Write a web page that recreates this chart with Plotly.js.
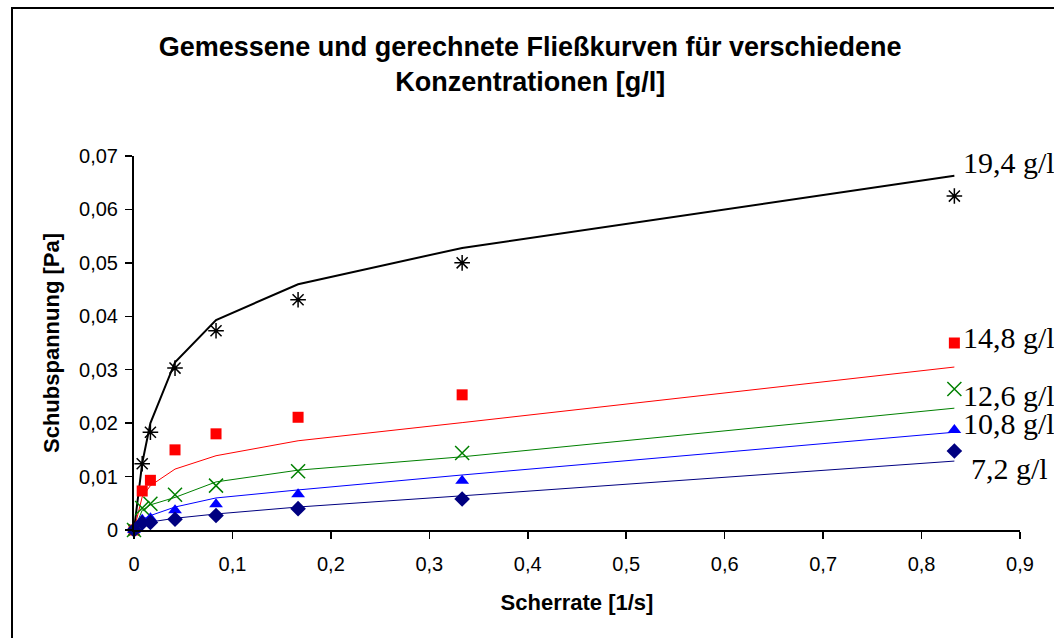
<!DOCTYPE html>
<html>
<head>
<meta charset="utf-8">
<script src="https://cdn.plot.ly/plotly-3.0.1.min.js"></script>
<style>
  html, body { margin: 0; padding: 0; background: #fff; }
  #wrap { position: relative; width: 1054px; height: 638px; overflow: hidden; }
  #chart { width: 1054px; height: 638px; }
  #frame { position: absolute; left: 11px; top: 7px; width: 1100px; height: 700px;
           border-left: 2px solid #000; border-top: 2px solid #000; pointer-events: none; }
</style>
</head>
<body>
<div id="wrap"><div id="chart"></div><div id="frame"></div></div>
<script>
// Scherrate [1/s]
const shearRate = [0, 0.00833, 0.01667, 0.04167, 0.08333, 0.16667, 0.33333, 0.83333];

// gemessen (markers) und gerechnet (lines), Schubspannung [Pa]
const meas194 = [0, 0.0124, 0.0183, 0.0303, 0.0373, 0.0431, 0.0500, 0.0625];
const calc194 = [0, 0.0125, 0.0200, 0.0314, 0.0393, 0.0460, 0.0528, 0.0663];
const meas148 = [0, 0.0073, 0.0093, 0.0150, 0.0180, 0.0211, 0.0253, 0.0350];
const calc148 = [0, 0.0062, 0.0083, 0.0114, 0.0139, 0.0167, 0.0201, 0.0305];
const meas126 = [0, 0.0041, 0.0049, 0.0066, 0.0083, 0.0110, 0.0144, 0.0264];
const calc126 = [0, 0.0037, 0.0047, 0.0061, 0.0090, 0.0112, 0.0137, 0.0228];
const meas108 = [0, 0.0019, 0.0022, 0.0037, 0.0048, 0.0067, 0.0092, 0.0187];
const calc108 = [0, 0.0020, 0.0027, 0.0043, 0.0060, 0.0075, 0.0103, 0.0183];
const meas72  = [0, 0.0013, 0.0014, 0.0020, 0.0027, 0.0040, 0.0058, 0.0148];
const calc72  = [0, 0.0012, 0.0015, 0.0022, 0.0030, 0.0043, 0.0064, 0.0129];

const seriesLabels = ["19,4 g/l", "14,8 g/l", "12,6 g/l", "10,8 g/l", "7,2 g/l"];
const labelX = [0.840, 0.840, 0.840, 0.840, 0.848];
const labelY = [0.0687, 0.0361, 0.0252, 0.0199, 0.0116];

const colors = ["#000000", "#FF0000", "#008000", "#0000FF", "#000080"];
const measured = [meas194, meas148, meas126, meas108, meas72];
const calculated = [calc194, calc148, calc126, calc108, calc72];
const symbols = ["asterisk-open", "square", "x-thin-open", "triangle-up", "diamond"];
const msizes = [13, 11, 14, 12, 12];
const lwidths = [2, 1, 1, 1, 1];

const traces = [];
for (let i = 0; i < 5; i++) {
  traces.push({
    x: shearRate, y: calculated[i], type: "scatter", mode: "lines",
    line: { color: colors[i], width: lwidths[i] }, cliponaxis: false,
    showlegend: false, hoverinfo: "skip"
  });
  traces.push({
    x: shearRate, y: measured[i], type: "scatter", mode: "markers",
    marker: { symbol: symbols[i], size: msizes[i], color: colors[i],
              line: { color: colors[i], width: (i === 0 || i === 2) ? 1.5 : 0 } },
    cliponaxis: false, showlegend: false
  });
}

const annotations = seriesLabels.map((t, i) => ({
  text: t, x: labelX[i], y: labelY[i], xref: "x", yref: "y",
  xanchor: "left", yanchor: "middle", showarrow: false,
  font: { family: "Liberation Serif, Times New Roman, serif", size: 30, color: "#000" }
}));

const layout = {
  width: 1054, height: 638,
  paper_bgcolor: "#fff", plot_bgcolor: "#fff",
  margin: { l: 134, r: 34, t: 156, b: 108, pad: 0 },
  separators: ",.",
  font: { family: "Liberation Sans, Arial, sans-serif", color: "#000", size: 20 },
  title: {
    text: "<b>Gemessene und gerechnete Fließkurven für verschiedene<br>Konzentrationen [g/l]</b>",
    x: 0.503, xanchor: "center", y: 0.912, yanchor: "middle", yref: "container",
    font: { size: 27, family: "Liberation Sans, Arial, sans-serif", color: "#000" }
  },
  xaxis: {
    range: [0, 0.9], dtick: 0.1, tick0: 0, showgrid: false, zeroline: false,
    showline: true, linecolor: "#000", linewidth: 2,
    ticks: "outside", ticklen: 7, tickcolor: "#000", tickwidth: 1.5,
    ticklabelstandoff: 8,
    tickfont: { size: 20 },
    title: { text: "<b>Scherrate [1/s]</b>", font: { size: 22 }, standoff: 21 }
  },
  yaxis: {
    range: [0, 0.07], dtick: 0.01, tick0: 0, showgrid: false, zeroline: false,
    showline: true, linecolor: "#000", linewidth: 2,
    ticks: "outside", ticklen: 7, tickcolor: "#000", tickwidth: 1.5,
    ticklabelstandoff: 3,
    tickfont: { size: 20 },
    title: { text: "<b>Schubspannung [Pa]</b>", font: { size: 22 }, standoff: 13 }
  },
  annotations: annotations
};

Plotly.newPlot("chart", traces, layout, { displayModeBar: false, staticPlot: true });
</script>
</body>
</html>
